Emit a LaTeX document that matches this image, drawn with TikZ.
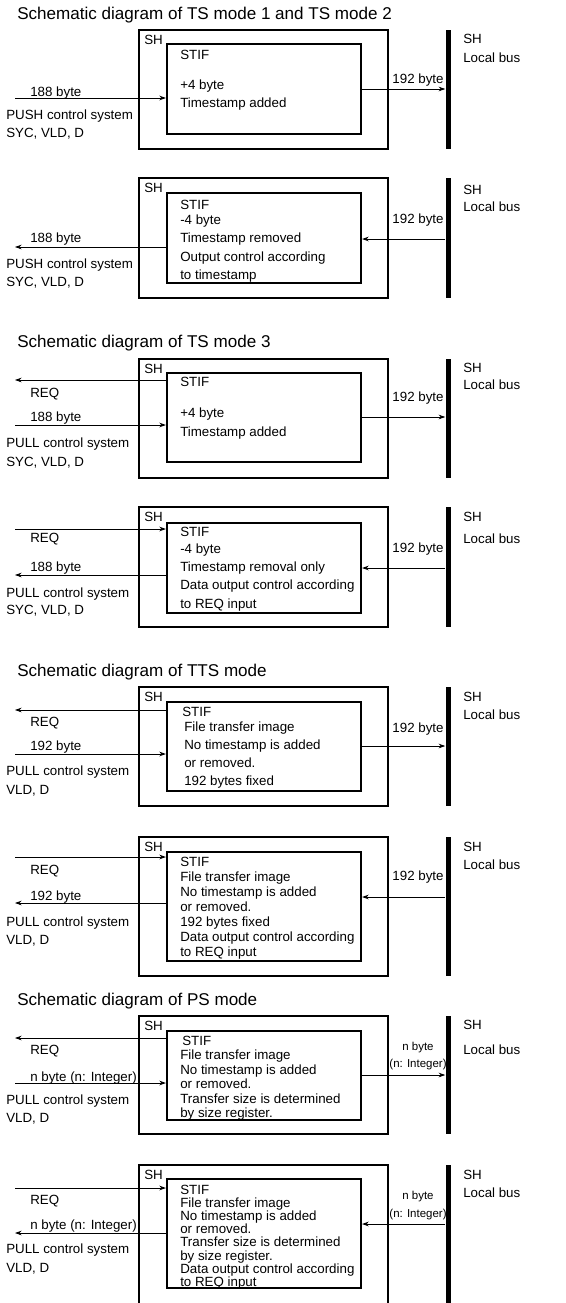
\documentclass[tikz,border=0pt]{standalone}
\usepackage{fontspec}
\setmainfont{Liberation Sans}
\usetikzlibrary{arrows.meta,fit}

\begin{document}
\begin{tikzpicture}[
  x=0.75pt,
  y=-0.75pt,
  font=\fontsize{10}{12}\selectfont,
  txt/.style={anchor=west, inner sep=0pt, text height=0.72em, text depth=0pt},
  mid/.style={txt, anchor=center},
  heading/.style={txt, font=\fontsize{12.8}{15}\selectfont},
  small/.style={mid, font=\fontsize{8.6}{10}\selectfont},
  shbox/.style={draw, line width=1.6pt, inner sep=0pt},
  stifbox/.style={draw, line width=1.6pt, inner sep=0pt},
  bus/.style={fill, inner sep=0pt},
  sig/.style={-{Stealth[length=5pt,width=3.5pt]}, line width=0.6pt}
]

% White background
\useasboundingbox (0,0) rectangle (565,1303);
\fill[white] (0,0) rectangle (565,1303);

% Headings
\node[heading] (h1) at (17,15) {Schematic diagram of TS mode 1 and TS mode 2};
\node[heading] (h2) at (17,343) {Schematic diagram of TS mode 3};
\node[heading] (h3) at (17,672) {Schematic diagram of TTS mode};
\node[heading] (h4) at (17,1001) {Schematic diagram of PS mode};

% SH blocks, STIF blocks and local buses
\foreach \n/\ot/\ob/\it/\ib in {1/30/149/44/134, 2/178/298/193/283,
    3/359/478/373/462, 4/507/627/523/613, 5/687/806/702/791,
    6/837/976/852/961, 7/1016/1134/1031/1120, 8/1165/1320/1179/1288} {
  \node[shbox, fit={(139,\ot) (388,\ob)}] (sh\n) {};
  \node[stifbox, fit={(167,\it) (361,\ib)}] (stif\n) {};
  \node[bus, fit={(445.5,\ot) (450.5,\ob)}] (bus\n) {};
  \node[txt] (shl\n) at (144,\ot+10) {SH};
}

% Bus labels
\foreach \n/\ys/\yl in {1/39/58, 2/190/207, 3/368/385, 4/517/539,
    5/697/715, 6/847/865, 7/1025/1050, 8/1175/1193} {
  \node[txt] (bsh\n) at (463,\ys) {SH};
  \node[txt] (blb\n) at (463,\yl) {Local bus};
}

% TS mode 1 and 2, input
\foreach \y/\t [count=\i] in {55/STIF, 85/+4 byte, 103/Timestamp added}
  \node[txt] (p1t\i) at (180,\y) {\t};
\node[txt] (p1a) at (30,92) {188 byte};
\node[txt] (p1b) at (6,115) {PUSH control system};
\node[txt] (p1c) at (6,133) {SYC, VLD, D};
\node[mid] (p1d) at (418,79) {192 byte};
\coordinate (p1in) at (15,98);
\coordinate (p1out) at (448,89);
\draw[sig] (p1in) -- (p1in -| stif1.west);
\draw[sig] (p1out -| stif1.east) -- (p1out -| bus1.west);

% TS mode 1 and 2, output
\foreach \y/\t [count=\i] in {205/STIF, 220/-4 byte, 238/Timestamp removed,
    257/Output control according, 275/to timestamp}
  \node[txt] (p2t\i) at (180,\y) {\t};
\node[txt] (p2a) at (30,238) {188 byte};
\node[txt] (p2b) at (6,264) {PUSH control system};
\node[txt] (p2c) at (6,282) {SYC, VLD, D};
\node[mid] (p2d) at (418,219) {192 byte};
\coordinate (p2out) at (15,247);
\coordinate (p2in) at (448,239);
\draw[sig] (p2out -| stif2.west) -- (p2out);
\draw[sig] (p2in -| bus2.west) -- (p2in -| stif2.east);

% TS mode 3, input
\foreach \y/\t [count=\i] in {382/STIF, 413/+4 byte, 432/Timestamp added}
  \node[txt] (p3t\i) at (180,\y) {\t};
\node[txt] (p3r) at (30,393) {REQ};
\node[txt] (p3a) at (30,417) {188 byte};
\node[txt] (p3b) at (6,443) {PULL control system};
\node[txt] (p3c) at (6,462) {SYC, VLD, D};
\node[mid] (p3d) at (418,397) {192 byte};
\coordinate (p3req) at (15,380);
\coordinate (p3in) at (15,425);
\coordinate (p3out) at (448,417);
\draw[sig] (p3req -| stif3.west) -- (p3req);
\draw[sig] (p3in) -- (p3in -| stif3.west);
\draw[sig] (p3out -| stif3.east) -- (p3out -| bus3.west);

% TS mode 3, output
\foreach \y/\t [count=\i] in {532/STIF, 549/-4 byte, 567/Timestamp removal only,
    585/Data output control according, 604/to REQ input}
  \node[txt] (p4t\i) at (180,\y) {\t};
\node[txt] (p4r) at (30,538) {REQ};
\node[txt] (p4a) at (30,567) {188 byte};
\node[txt] (p4b) at (6,593) {PULL control system};
\node[txt] (p4c) at (6,610) {SYC, VLD, D};
\node[mid] (p4d) at (418,548) {192 byte};
\coordinate (p4req) at (15,529);
\coordinate (p4out) at (15,575);
\coordinate (p4in) at (448,568);
\draw[sig] (p4req) -- (p4req -| stif4.west);
\draw[sig] (p4out -| stif4.west) -- (p4out);
\draw[sig] (p4in -| bus4.west) -- (p4in -| stif4.east);

% TTS mode, input
\node[txt] (p5s) at (182,712) {STIF};
\foreach \y/\t [count=\i] in {727/File transfer image, 745/No timestamp is added,
    763/or removed., 781/192 bytes fixed}
  \node[txt] (p5t\i) at (184,\y) {\t};
\node[txt] (p5r) at (30,722) {REQ};
\node[txt] (p5a) at (30,746) {192 byte};
\node[txt] (p5b) at (6,771) {PULL control system};
\node[txt] (p5c) at (6,790) {VLD, D};
\node[mid] (p5d) at (418,728) {192 byte};
\coordinate (p5req) at (15,710);
\coordinate (p5in) at (15,754);
\coordinate (p5out) at (448,746);
\draw[sig] (p5req -| stif5.west) -- (p5req);
\draw[sig] (p5in) -- (p5in -| stif5.west);
\draw[sig] (p5out -| stif5.east) -- (p5out -| bus5.west);

% TTS mode, output
\foreach \y/\t [count=\i] in {862/STIF, 877/File transfer image,
    892/No timestamp is added, 907/or removed., 922/192 bytes fixed,
    937/Data output control according, 952/to REQ input}
  \node[txt] (p6t\i) at (180,\y) {\t};
\node[txt] (p6r) at (30,870) {REQ};
\node[txt] (p6a) at (30,896) {192 byte};
\node[txt] (p6b) at (6,922) {PULL control system};
\node[txt] (p6c) at (6,940) {VLD, D};
\node[mid] (p6d) at (418,876) {192 byte};
\coordinate (p6req) at (15,857);
\coordinate (p6out) at (15,903);
\coordinate (p6in) at (448,897);
\draw[sig] (p6req) -- (p6req -| stif6.west);
\draw[sig] (p6out -| stif6.west) -- (p6out);
\draw[sig] (p6in -| bus6.west) -- (p6in -| stif6.east);

% PS mode, input
\node[txt] (p7s) at (182,1041) {STIF};
\foreach \y/\t [count=\i] in {1055/File transfer image, 1070/No timestamp is added,
    1084/or removed., 1099/Transfer size is determined, 1113/by size register.}
  \node[txt] (p7t\i) at (180,\y) {\t};
\node[txt] (p7r) at (30,1050) {REQ};
\node[txt] (p7a) at (30,1077) {n byte (n: Integer)};
\node[txt] (p7b) at (6,1100) {PULL control system};
\node[txt] (p7c) at (6,1118) {VLD, D};
\node[small] (p7d) at (418,1046) {n byte};
\node[small] (p7e) at (418,1063) {(n: Integer)};
\coordinate (p7req) at (15,1038);
\coordinate (p7in) at (15,1083);
\coordinate (p7out) at (448,1075);
\draw[sig] (p7req -| stif7.west) -- (p7req);
\draw[sig] (p7in) -- (p7in -| stif7.west);
\draw[sig] (p7out -| stif7.east) -- (p7out -| bus7.west);

% PS mode, output
\foreach \y/\t [count=\i] in {1190/STIF, 1203/File transfer image,
    1216/No timestamp is added, 1229/or removed., 1242/Transfer size is determined,
    1256/by size register., 1269/Data output control according, 1282/to REQ input}
  \node[txt] (p8t\i) at (180,\y) {\t};
\node[txt] (p8r) at (30,1200) {REQ};
\node[txt] (p8a) at (30,1225) {n byte (n: Integer)};
\node[txt] (p8b) at (6,1249) {PULL control system};
\node[txt] (p8c) at (6,1268) {VLD, D};
\node[small] (p8d) at (418,1195) {n byte};
\node[small] (p8e) at (418,1213) {(n: Integer)};
\coordinate (p8req) at (15,1188);
\coordinate (p8out) at (15,1233);
\coordinate (p8in) at (448,1224);
\draw[sig] (p8req) -- (p8req -| stif8.west);
\draw[sig] (p8out -| stif8.west) -- (p8out);
\draw[sig] (p8in -| bus8.west) -- (p8in -| stif8.east);

\end{tikzpicture}
\end{document}
